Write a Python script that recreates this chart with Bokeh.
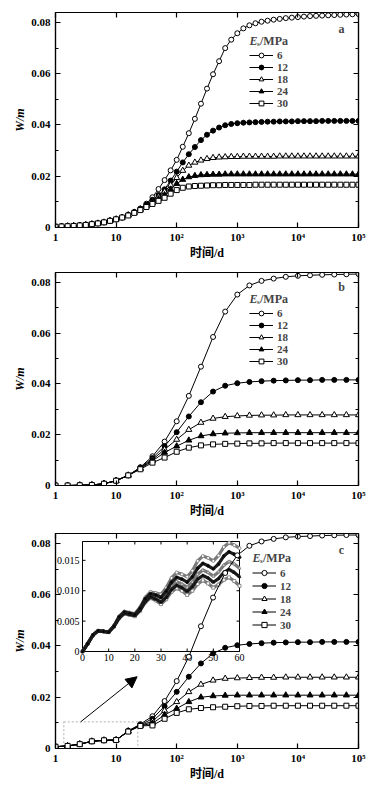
import math
from bokeh.plotting import figure
from bokeh.models import (Range1d, LinearScale, LinearAxis, LogAxis, FixedTicker,
                          NumeralTickFormatter, Legend, LegendItem, Label, Arrow,
                          NormalHead, BoxAnnotation)
from bokeh.layouts import column
from bokeh.embed import file_html
from bokeh.resources import INLINE
from bokeh.core.properties import value

# ---------------- data ----------------
SERIES = ["6", "12", "18", "24", "30"]
LEGEND_TITLE = ("E", "s", "/MPa")
X_LABEL = "时间/d"
Y_LABEL = "W/m"
PANEL_LETTERS = ["a", "b", "c"]

X_TICKS = [1, 10, 100, 1000, 10000, 100000]
X_TICK_LABELS = ["1", "10", "10²", "10³", "10⁴", "10⁵"]
Y_TICKS = [0, 0.02, 0.04, 0.06, 0.08]
Y_MINOR_TICKS = [0.01, 0.03, 0.05, 0.07]

# panel a (time in days)
T_A = [1, 1.259, 1.585, 1.995, 2.512, 3.162, 3.981, 5.012, 6.310, 7.943,
       10, 12.59, 15.85, 19.95, 25.12, 31.62, 39.81, 50.12, 63.10, 79.43,
       100, 125.9, 158.5, 199.5, 251.2, 316.2, 398.1, 501.2, 631.0, 794.3,
       1000, 1259, 1585, 1995, 2512, 3162, 3981, 5012, 6310, 7943,
       10000, 12590, 15850, 19950, 25120, 31620, 39810, 50120, 63100, 79430,
       100000]
A_6 = [0.0003, 0.0004, 0.0005, 0.0006, 0.0008, 0.0010, 0.0013, 0.0016, 0.0020, 0.0026,
       0.0032, 0.0039, 0.0049, 0.0060, 0.0074, 0.0093, 0.0118, 0.0150, 0.0185, 0.0223,
       0.0264, 0.0315, 0.0368, 0.0424, 0.0483, 0.0542, 0.0598, 0.0649, 0.0700, 0.0733,
       0.0758, 0.0777, 0.0789, 0.0797, 0.0803, 0.0807, 0.0811, 0.0814, 0.0817, 0.0819,
       0.0821, 0.0823, 0.0825, 0.0826, 0.0827, 0.0828, 0.0829, 0.0830, 0.0831, 0.0832,
       0.0833]
A_12 = [0.0003, 0.0004, 0.0005, 0.0006, 0.0008, 0.0010, 0.0013, 0.0016, 0.0020, 0.0026,
        0.0032, 0.0039, 0.0048, 0.0060, 0.0073, 0.0089, 0.0108, 0.0127, 0.0149, 0.0183,
        0.0218, 0.0254, 0.0286, 0.0314, 0.0341, 0.0362, 0.0378, 0.0390, 0.0399, 0.0404,
        0.0407, 0.0409, 0.0410, 0.0411, 0.0412, 0.0413, 0.0413, 0.0414, 0.0414, 0.0414,
        0.0415, 0.0415, 0.0415, 0.0415, 0.0416, 0.0416, 0.0416, 0.0416, 0.0416, 0.0416,
        0.0416]
A_18 = [0.0003, 0.0004, 0.0005, 0.0006, 0.0008, 0.0010, 0.0013, 0.0016, 0.0020, 0.0026,
        0.0032, 0.0039, 0.0048, 0.0059, 0.0071, 0.0086, 0.0102, 0.0120, 0.0140, 0.0165,
        0.0194, 0.0222, 0.0242, 0.0254, 0.0262, 0.0268, 0.0272, 0.0274, 0.0275, 0.0276,
        0.0276, 0.0277, 0.0277, 0.0277, 0.0277, 0.0277, 0.0277, 0.0278, 0.0278, 0.0278,
        0.0278, 0.0278, 0.0278, 0.0278, 0.0278, 0.0278, 0.0278, 0.0278, 0.0278, 0.0278,
        0.0278]
A_24 = [0.0003, 0.0004, 0.0005, 0.0006, 0.0008, 0.0010, 0.0013, 0.0016, 0.0020, 0.0026,
        0.0032, 0.0039, 0.0048, 0.0058, 0.0070, 0.0083, 0.0097, 0.0111, 0.0127, 0.0149,
        0.0171, 0.0187, 0.0197, 0.0202, 0.0205, 0.0206, 0.0207, 0.0207, 0.0208, 0.0208,
        0.0208, 0.0208, 0.0208, 0.0208, 0.0208, 0.0208, 0.0208, 0.0208, 0.0208, 0.0208,
        0.0208, 0.0208, 0.0208, 0.0208, 0.0208, 0.0208, 0.0208, 0.0208, 0.0208, 0.0208,
        0.0208]
A_30 = [0.0003, 0.0004, 0.0005, 0.0006, 0.0008, 0.0010, 0.0013, 0.0016, 0.0020, 0.0026,
        0.0032, 0.0039, 0.0047, 0.0057, 0.0068, 0.0080, 0.0092, 0.0104, 0.0116, 0.0132,
        0.0146, 0.0155, 0.0160, 0.0162, 0.0163, 0.0164, 0.0165, 0.0165, 0.0166, 0.0166,
        0.0166, 0.0166, 0.0166, 0.0167, 0.0167, 0.0167, 0.0167, 0.0167, 0.0167, 0.0167,
        0.0167, 0.0167, 0.0167, 0.0167, 0.0167, 0.0167, 0.0167, 0.0167, 0.0167, 0.0167,
        0.0167]

# panels b and c (time in days)
T_BC = [1, 1.585, 2.512, 3.981, 6.310, 10, 15.85, 25.12, 39.81, 63.10,
        100, 158.5, 251.2, 398.1, 631.0, 1000, 1585, 2512, 3981, 6310,
        10000, 15850, 25120, 39810, 63100, 100000]
B_6 = [0.0000, 0.0000, 0.0001, 0.0002, 0.0007, 0.0019, 0.0040, 0.0072, 0.0115, 0.0173,
       0.0253, 0.0353, 0.0468, 0.0585, 0.0685, 0.0752, 0.0788, 0.0806, 0.0815, 0.0822,
       0.0826, 0.0828, 0.0830, 0.0831, 0.0832, 0.0833]
B_12 = [0.0000, 0.0000, 0.0001, 0.0002, 0.0007, 0.0019, 0.0040, 0.0070, 0.0108, 0.0155,
        0.0210, 0.0272, 0.0328, 0.0370, 0.0393, 0.0403, 0.0408, 0.0411, 0.0413, 0.0414,
        0.0415, 0.0415, 0.0416, 0.0416, 0.0416, 0.0416]
B_18 = [0.0000, 0.0000, 0.0001, 0.0002, 0.0007, 0.0019, 0.0040, 0.0068, 0.0102, 0.0142,
        0.0181, 0.0220, 0.0248, 0.0264, 0.0271, 0.0274, 0.0276, 0.0277, 0.0277, 0.0278,
        0.0278, 0.0278, 0.0278, 0.0278, 0.0278, 0.0278]
B_24 = [0.0000, 0.0000, 0.0001, 0.0002, 0.0007, 0.0019, 0.0040, 0.0066, 0.0097, 0.0130,
        0.0155, 0.0178, 0.0195, 0.0203, 0.0206, 0.0207, 0.0208, 0.0208, 0.0208, 0.0208,
        0.0208, 0.0208, 0.0208, 0.0208, 0.0208, 0.0208]
B_30 = [0.0000, 0.0000, 0.0001, 0.0002, 0.0007, 0.0019, 0.0040, 0.0064, 0.0090, 0.0110,
        0.0133, 0.0149, 0.0158, 0.0162, 0.0164, 0.0165, 0.0166, 0.0166, 0.0167, 0.0167,
        0.0167, 0.0167, 0.0167, 0.0167, 0.0167, 0.0167]

C_6 = [0.0007, 0.0010, 0.0017, 0.0028, 0.0032, 0.0033, 0.0069, 0.0095, 0.0126, 0.0185,
       0.0263, 0.0358, 0.0477, 0.0589, 0.0685, 0.0754, 0.0791, 0.0808, 0.0818, 0.0824,
       0.0827, 0.0829, 0.0831, 0.0832, 0.0833, 0.0833]
C_12 = [0.0007, 0.0010, 0.0017, 0.0028, 0.0032, 0.0033, 0.0068, 0.0092, 0.0116, 0.0165,
        0.0221, 0.0280, 0.0332, 0.0371, 0.0393, 0.0403, 0.0408, 0.0411, 0.0413, 0.0414,
        0.0415, 0.0415, 0.0416, 0.0416, 0.0416, 0.0416]
C_18 = [0.0007, 0.0010, 0.0017, 0.0028, 0.0032, 0.0033, 0.0068, 0.0090, 0.0106, 0.0148,
        0.0182, 0.0221, 0.0250, 0.0266, 0.0273, 0.0275, 0.0276, 0.0277, 0.0277, 0.0278,
        0.0278, 0.0278, 0.0278, 0.0278, 0.0278, 0.0278]
C_24 = [0.0007, 0.0010, 0.0017, 0.0028, 0.0032, 0.0033, 0.0067, 0.0089, 0.0098, 0.0131,
        0.0156, 0.0182, 0.0200, 0.0205, 0.0207, 0.0208, 0.0208, 0.0208, 0.0208, 0.0208,
        0.0208, 0.0208, 0.0208, 0.0208, 0.0208, 0.0208]
C_30 = [0.0007, 0.0010, 0.0017, 0.0028, 0.0032, 0.0033, 0.0066, 0.0088, 0.0090, 0.0116,
        0.0139, 0.0153, 0.0158, 0.0161, 0.0163, 0.0165, 0.0166, 0.0166, 0.0167, 0.0167,
        0.0167, 0.0167, 0.0167, 0.0167, 0.0167, 0.0167]

# inset of panel c (linear time, days 0-60)
I_DAYS = [0, 2, 4, 6, 8, 10, 12, 14, 16, 18, 20, 22, 24, 26, 28, 30,
          32, 34, 36, 38, 40, 42, 44, 46, 48, 50, 52, 54, 56, 58, 60]
I_6 = [0.0000, 0.0013, 0.0027, 0.0034, 0.0033, 0.0032, 0.0042, 0.0058, 0.0066, 0.0064,
       0.0062, 0.0073, 0.0089, 0.0098, 0.0096, 0.0094, 0.0105, 0.0121, 0.0130, 0.0127,
       0.0123, 0.0133, 0.0149, 0.0157, 0.0154, 0.0149, 0.0158, 0.0172, 0.0179, 0.0175,
       0.0170]
I_12 = [0.0000, 0.0013, 0.0027, 0.0034, 0.0033, 0.0032, 0.0042, 0.0057, 0.0065, 0.0063,
        0.0061, 0.0071, 0.0087, 0.0095, 0.0093, 0.0089, 0.0099, 0.0114, 0.0122, 0.0119,
        0.0114, 0.0123, 0.0137, 0.0145, 0.0141, 0.0136, 0.0144, 0.0157, 0.0164, 0.0160,
        0.0155]
I_18 = [0.0000, 0.0013, 0.0027, 0.0034, 0.0033, 0.0032, 0.0042, 0.0056, 0.0064, 0.0062,
        0.0060, 0.0070, 0.0084, 0.0092, 0.0089, 0.0085, 0.0094, 0.0108, 0.0115, 0.0111,
        0.0106, 0.0114, 0.0127, 0.0134, 0.0130, 0.0124, 0.0131, 0.0142, 0.0148, 0.0144,
        0.0137]
I_24 = [0.0000, 0.0013, 0.0027, 0.0034, 0.0033, 0.0032, 0.0041, 0.0055, 0.0063, 0.0061,
        0.0059, 0.0068, 0.0082, 0.0090, 0.0086, 0.0081, 0.0089, 0.0102, 0.0109, 0.0105,
        0.0099, 0.0107, 0.0119, 0.0125, 0.0121, 0.0114, 0.0120, 0.0130, 0.0135, 0.0130,
        0.0123]
I_30 = [0.0000, 0.0013, 0.0027, 0.0034, 0.0033, 0.0032, 0.0041, 0.0055, 0.0062, 0.0060,
        0.0058, 0.0067, 0.0081, 0.0088, 0.0084, 0.0078, 0.0086, 0.0098, 0.0104, 0.0100,
        0.0093, 0.0100, 0.0111, 0.0117, 0.0112, 0.0105, 0.0110, 0.0118, 0.0122, 0.0116,
        0.0108]
I_X_TICKS = [0, 10, 20, 30, 40, 50, 60]
I_X_TICK_LABELS = ["0", "10", "20", "30", "40", "50", "60"]
I_Y_TICKS = [0, 0.005, 0.010, 0.015]
I_Y_TICK_LABELS = ["0", "0.005", "0.010", "0.015"]
I_X_MAX = 60
I_Y_MAX = 0.0181

# zoom box and arrow of panel c (data coordinates of the main axes)
BOX = dict(left=1.37, right=22.8, bottom=0.0, top=0.0104)
ARROW = dict(x_start=2.6, y_start=0.0104, x_end=22.2, y_end=0.028)

# ---------------- styling ----------------
SERIF = "Liberation Serif"
XLABEL_FONT = "Liberation Serif, Noto Sans CJK SC"
STYLE = {
    "6": ("circle", "white", 5),
    "12": ("circle", "black", 5),
    "18": ("triangle", "white", 6),
    "24": ("triangle", "black", 6),
    "30": ("square", "white", 5),
}
FRAME_W = 303
FRAME_H = 215
Y_MAX = 0.0839


def style_axis(ax, ticks, minor, show, xaxis=False):
    ax.ticker = FixedTicker(ticks=ticks, minor_ticks=minor)
    ax.major_tick_in = 5
    ax.major_tick_out = 0
    ax.minor_tick_in = 3
    ax.minor_tick_out = 0
    ax.axis_line_color = "black"
    ax.axis_line_width = 1.2
    ax.major_tick_line_color = "black"
    ax.major_tick_line_width = 1.2
    ax.minor_tick_line_color = "black"
    ax.minor_tick_line_width = 1
    if show:
        ax.major_label_text_font = SERIF
        ax.major_label_text_font_style = "bold"
        ax.major_label_text_font_size = "11px"
        ax.major_label_text_color = "black"
        ax.major_label_standoff = 3 if xaxis else 5
    else:
        ax.major_label_text_font_size = "1px"
        ax.major_label_text_alpha = 0
        ax.major_label_standoff = 0


def make_panel(height, top, bottom, t, data, letter, leg, pre=None):
    p = figure(width=378, height=height, x_axis_type="log",
               x_range=Range1d(1, 1e5), y_range=Range1d(0, Y_MAX),
               output_backend="svg", toolbar_location=None,
               min_border_left=55, min_border_right=20,
               min_border_top=top, min_border_bottom=bottom)
    p.grid.visible = False
    p.outline_line_color = "black"
    p.outline_line_width = 1.2
    p.background_fill_color = "white"
    p.border_fill_color = "white"

    xa = p.xaxis[0]
    style_axis(xa, X_TICKS, [], True, xaxis=True)
    xa.major_label_overrides = {k: v for k, v in zip(X_TICKS, X_TICK_LABELS)}
    xa.axis_label = X_LABEL
    xa.axis_label_text_font = XLABEL_FONT
    xa.axis_label_text_font_style = "bold"
    xa.axis_label_text_font_size = "12px"
    xa.axis_label_text_color = "black"
    xa.axis_label_standoff = 0

    ya = p.yaxis[0]
    style_axis(ya, Y_TICKS, Y_MINOR_TICKS, True)
    ya.formatter = NumeralTickFormatter(format="0.[00]")
    ya.axis_label = Y_LABEL
    ya.axis_label_text_font = SERIF
    ya.axis_label_text_font_style = "bold italic"
    ya.axis_label_text_font_size = "12px"
    ya.axis_label_text_color = "black"
    ya.axis_label_standoff = 1

    top_ax = LogAxis()
    style_axis(top_ax, X_TICKS, [], False)
    p.add_layout(top_ax, "above")
    right_ax = LinearAxis()
    style_axis(right_ax, Y_TICKS, Y_MINOR_TICKS, False)
    p.add_layout(right_ax, "right")

    if pre is not None:
        pre(p)

    items = []
    for s in SERIES:
        marker, fill, size = STYLE[s]
        r1 = p.line(t, data[s], line_color="black", line_width=1)
        r2 = p.scatter(t, data[s], marker=marker, size=size, fill_color=fill,
                       line_color="black", line_width=1)
        items.append(LegendItem(label=s, renderers=[r1, r2]))

    lx, ly, row_h, tx, ty = leg
    legend = Legend(items=items, location=(lx, ly), orientation="vertical",
                    border_line_color=None, background_fill_alpha=0,
                    padding=0, margin=0, spacing=0, glyph_width=24,
                    glyph_height=row_h, label_height=row_h, label_standoff=4,
                    label_text_font=SERIF, label_text_font_style="bold",
                    label_text_font_size="11px", label_text_baseline="middle")
    p.add_layout(legend)

    # legend title E_s/MPa
    p.add_layout(Label(x=tx, y=ty, x_units="screen", y_units="screen",
                       text=LEGEND_TITLE[0], text_font=SERIF,
                       text_font_style="bold italic", text_font_size="12px",
                       text_baseline="middle"))
    p.add_layout(Label(x=tx + 7.5, y=ty - 3, x_units="screen", y_units="screen",
                       text=LEGEND_TITLE[1], text_font=SERIF,
                       text_font_style="bold", text_font_size="7px",
                       text_baseline="middle"))
    p.add_layout(Label(x=tx + 10.5, y=ty, x_units="screen", y_units="screen",
                       text=LEGEND_TITLE[2], text_font=SERIF,
                       text_font_style="bold", text_font_size="12px",
                       text_baseline="middle"))
    # panel letter
    p.add_layout(Label(x=286, y=199, x_units="screen", y_units="screen",
                       text=letter, text_font=SERIF, text_font_style="bold",
                       text_font_size="12px", text_align="center",
                       text_baseline="middle"))
    return p


# inset geometry (pixels within panel c's frame)
IN_L, IN_R, IN_B, IN_T = 27, 184, 97, 207


def draw_inset(p):
    dpp = I_X_MAX / (IN_R - IN_L)
    vpp = I_Y_MAX / (IN_T - IN_B)
    p.extra_x_ranges = {"ix": Range1d(-IN_L * dpp, I_X_MAX + (FRAME_W - IN_R) * dpp)}
    p.extra_y_ranges = {"iy": Range1d(-IN_B * vpp, I_Y_MAX + (FRAME_H - IN_T) * vpp)}
    p.extra_x_scales = {"ix": LinearScale()}
    p.extra_y_scales = {"iy": LinearScale()}
    kw = dict(x_range_name="ix", y_range_name="iy")
    p.quad(left=[0], right=[I_X_MAX], bottom=[0], top=[I_Y_MAX], fill_color="white",
           line_color="black", line_width=1, **kw)
    tl = 3
    n = len(I_X_TICKS)
    p.segment(x0=I_X_TICKS, x1=I_X_TICKS, y0=[0] * n, y1=[tl * vpp] * n,
              line_color="black", line_width=1, **kw)
    p.segment(x0=I_X_TICKS, x1=I_X_TICKS, y0=[I_Y_MAX] * n, y1=[I_Y_MAX - tl * vpp] * n,
              line_color="black", line_width=1, **kw)
    m = len(I_Y_TICKS)
    p.segment(x0=[0] * m, x1=[tl * dpp] * m, y0=I_Y_TICKS, y1=I_Y_TICKS,
              line_color="black", line_width=1, **kw)
    p.segment(x0=[I_X_MAX] * m, x1=[I_X_MAX - tl * dpp] * m, y0=I_Y_TICKS, y1=I_Y_TICKS,
              line_color="black", line_width=1, **kw)
    p.text(x=I_X_TICKS, y=[-2 * vpp] * n, text=I_X_TICK_LABELS, text_align="center",
           text_baseline="top", text_font=value(SERIF), text_font_size="10px",
           text_color="black", **kw)
    p.text(x=[-3 * dpp] * m, y=I_Y_TICKS, text=I_Y_TICK_LABELS, text_align="right",
           text_baseline="middle", text_font=value(SERIF), text_font_size="10px",
           text_color="black", **kw)
    ins = {"6": I_6, "12": I_12, "18": I_18, "24": I_24, "30": I_30}
    for s in ["30", "18", "6", "24", "12"]:
        marker, fill, size = STYLE[s]
        col = "#7a7a7a" if fill == "white" else "#1a1a1a"
        p.line(I_DAYS, ins[s], line_color=col, line_width=3.2, **kw)
        p.scatter(I_DAYS, ins[s], marker=marker, size=3, fill_color=fill,
                  line_color=col, line_width=0.8, **kw)
    p.add_layout(BoxAnnotation(fill_alpha=0, line_color="#333333", line_dash="2 2",
                               line_width=1.3, **BOX))
    p.add_layout(Arrow(end=NormalHead(size=11, fill_color="black", line_color="black"),
                       line_color="black", line_width=1, **ARROW))


pa = make_panel(264, 12, 37, T_A,
                {"6": A_6, "12": A_12, "18": A_18, "24": A_24, "30": A_30},
                PANEL_LETTERS[0], (194, 118, 12, 194, 187))
pb = make_panel(256, 8, 33, T_BC,
                {"6": B_6, "12": B_12, "18": B_18, "24": B_24, "30": B_30},
                PANEL_LETTERS[1], (194, 118, 12, 194, 187))
pc = make_panel(265, 13, 37, T_BC,
                {"6": C_6, "12": C_12, "18": C_18, "24": C_24, "30": C_30},
                PANEL_LETTERS[2], (197, 117, 13, 197, 191), pre=draw_inset)

layout = column(pa, pb, pc, spacing=0)
open("out.html", "w").write(file_html(layout, INLINE))
